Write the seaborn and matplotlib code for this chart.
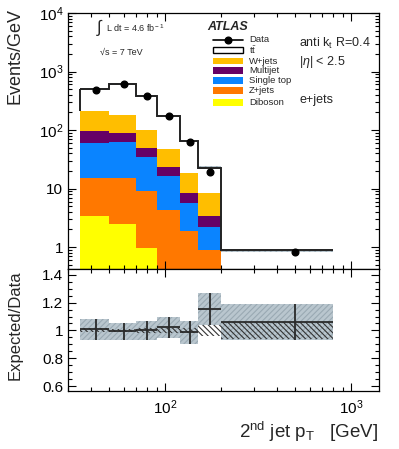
import numpy as np
import pandas as pd
import matplotlib
matplotlib.use("Agg")
import matplotlib.pyplot as plt
import matplotlib.ticker as mticker
from matplotlib.patches import Rectangle
from matplotlib.lines import Line2D
import seaborn as sns

# ---------------- data ----------------
bin_edges = [35, 50, 70, 90, 120, 150, 200, 800]
processes = ["ttbar", "W+jets", "Multijet", "Single top", "Z+jets", "Diboson"]
ttbar = [297, 444, 289, 127.5, 47.4, 14.25, 0.52]
wjets = [113.6, 89.4, 49.4, 24.5, 10.15, 5.09, 0.20]
multijet = [34.9, 26.4, 13.7, 6.7, 2.76, 1.16, 0.03]
single_top = [44.6, 47.0, 26.1, 11.9, 3.81, 1.30, 0.08]
zjets = [11.5, 12.45, 8.06, 4.07, 1.76, 0.85, 0.04]
diboson = [3.40, 2.45, 0.96, 0.30, 0.12, 0.05, 0.01]
data_vals = [491, 614, 377, 171, 63.5, 19.1, 0.83]
mc_unc_frac = [0.04, 0.04, 0.04, 0.04, 0.04, 0.05, 0.06]

ratio_vals = [1.007, 0.993, 1.005, 1.024, 0.990, 1.156, 1.060]
ratio_lo = [0.928, 0.928, 0.930, 0.947, 0.904, 1.036, 0.928]
ratio_hi = [1.084, 1.053, 1.070, 1.100, 1.067, 1.270, 1.190]
mcstat_half = [0.014, 0.012, 0.015, 0.020, 0.020, 0.040, 0.060]

legend_labels = ["Data", r"t$\bar{\rm t}$", "W+jets", "Multijet", "Single top", "Z+jets", "Diboson"]
colors = {"ttbar": "white", "W+jets": "#FFBE00", "Multijet": "#660066",
          "Single top": "#0A84FF", "Z+jets": "#FF7800", "Diboson": "#FFFF00"}

# ---------------- style ----------------
sns.set_style("ticks")
plt.rcParams["font.family"] = ["Liberation Sans", "DejaVu Sans"]
plt.rcParams["mathtext.fontset"] = "custom"
plt.rcParams["mathtext.rm"] = "Liberation Sans"
plt.rcParams["mathtext.it"] = "Liberation Sans:italic"
plt.rcParams["mathtext.bf"] = "Liberation Sans:bold"
plt.rcParams["axes.linewidth"] = 0.9
plt.rcParams["axes.edgecolor"] = "black"
plt.rcParams["hatch.color"] = "#9AA9B3"
plt.rcParams["hatch.linewidth"] = 0.8

W, H = 399, 449
fig = plt.figure(figsize=(W / 100, H / 100), dpi=100)
left, right = 68 / W, 378.5 / W
y_split = 1 - 268.5 / H
ax = fig.add_axes([left, y_split, right - left, (1 - 13 / H) - y_split])
axr = fig.add_axes([left, 1 - 391 / H, right - left, y_split - (1 - 391 / H)])

edges = np.array(bin_edges, dtype=float)
centers = 0.5 * (edges[:-1] + edges[1:])
comp = {"ttbar": ttbar, "W+jets": wjets, "Multijet": multijet,
        "Single top": single_top, "Z+jets": zjets, "Diboson": diboson}
rows = []
for p in processes:
    for c, v in zip(centers, comp[p]):
        rows.append({"pt": c, "w": v, "process": p})
df = pd.DataFrame(rows)

ax.set_xscale("log")
sns.histplot(df, x="pt", weights="w", hue="process", hue_order=processes,
             multiple="stack", bins=[float(b) for b in np.log10(edges)], element="bars",
             palette=colors, linewidth=0, alpha=1, legend=False, ax=ax)
ax.set_yscale("log")

total = np.sum([np.array(comp[p]) for p in processes], axis=0)
below_tt = total - np.array(ttbar)
unc = np.array(mc_unc_frac)
ax.stairs(total * (1 + unc), edges, baseline=total * (1 - unc), fill=True,
          facecolor="#B9C6CE", edgecolor="#9AA9B3", lw=0, hatch="//////", zorder=3)
ax.stairs(total, edges, baseline=None, color="#222222", lw=1.4, zorder=4)
ax.vlines(edges[0], below_tt[0], total[0], color="#222222", lw=1.4, zorder=4)
ax.plot(centers, data_vals, "o", color="black", ms=4.8, zorder=6)

ax.set_xlim(30, 1400)
ax.set_ylim(0.43, 1e4)
ax.set_xlabel("")
ax.set_ylabel("")


def log_fmt(v, pos):
    if abs(v - 1) < 1e-9:
        return "1"
    if abs(v - 10) < 1e-9:
        return "10"
    e = int(round(np.log10(v)))
    return r"$\mathdefault{10^{%d}}$" % e


for a in (ax, axr):
    a.xaxis.set_major_locator(mticker.LogLocator(base=10, numticks=10))
    a.xaxis.set_minor_locator(mticker.LogLocator(base=10, subs=np.arange(2, 10), numticks=10))
    a.xaxis.set_minor_formatter(mticker.NullFormatter())

ax.yaxis.set_major_locator(mticker.LogLocator(base=10, numticks=10))
ax.yaxis.set_minor_locator(mticker.LogLocator(base=10, subs=np.arange(2, 10), numticks=10))
ax.yaxis.set_major_formatter(mticker.FuncFormatter(log_fmt))
ax.yaxis.set_minor_formatter(mticker.NullFormatter())
ax.tick_params(axis="x", labelbottom=False)

# ---------------- ratio panel ----------------
axr.set_xscale("log")
widths = np.diff(edges)
lo = np.array(ratio_lo)
hi = np.array(ratio_hi)
axr.bar(edges[:-1], hi - lo, bottom=lo, width=widths, align="edge",
        color="#B9C6CE", edgecolor="#9AA9B3", linewidth=0, hatch="//////", zorder=1)
mh = np.array(mcstat_half)
axr.bar(edges[:-1], 2 * mh, bottom=1 - mh, width=widths, align="edge",
        facecolor="none", edgecolor="#333333", linewidth=0, hatch="\\\\\\\\\\\\", zorder=2)
axr.hlines(ratio_vals, edges[:-1], edges[1:], color="#2a2a2a", lw=1.3, zorder=3)
axr.vlines(centers, lo, hi, color="#2a2a2a", lw=1.3, zorder=3)
axr.set_xlim(30, 1400)
axr.set_ylim(0.565, 1.445)
axr.yaxis.set_major_locator(mticker.MultipleLocator(0.2))
axr.yaxis.set_minor_locator(mticker.MultipleLocator(0.05))
axr.yaxis.set_major_formatter(mticker.FuncFormatter(lambda v, p: "%g" % round(v, 2)))
axr.xaxis.set_major_formatter(mticker.FuncFormatter(log_fmt))
axr.set_xlabel("")
axr.set_ylabel("")

for a in (ax, axr):
    a.tick_params(which="both", direction="in", top=True, right=True, colors="black",
                  labelsize=11, width=0.8)
    a.tick_params(which="major", length=6)
    a.tick_params(which="minor", length=3.2)
    a.set_axisbelow(False)
axr.tick_params(axis="x", pad=5)

# ---------------- texts ----------------
def fx(px):
    return px / W


def fy(py):
    return 1 - py / H


fig.text(fx(15), fy(8), "Events/GeV", rotation=90, ha="center", va="top", fontsize=13)
fig.text(fx(15), fy(270), "Expected/Data", rotation=90, ha="center", va="top", fontsize=12)
fig.text(fx(378), fy(438), r"2$^{\rm nd}$ jet p$_{\rm T}$   [GeV]", ha="right", va="baseline", fontsize=13.5)

fig.text(fx(104.5), fy(27), r"$\int$", ha="right", va="center", fontsize=12)
fig.text(fx(106), fy(28.5), r"L dt = 4.6 fb$^{\rm -1}$", ha="left", va="center", fontsize=6.5)
fig.text(fx(100), fy(52.5), "\u221As = 7 TeV", ha="left", va="center", fontsize=6.5)

fig.text(fx(207), fy(27.5), "ATLAS", ha="left", va="center", fontsize=9,
         fontweight="bold", fontstyle="italic")
fig.text(fx(299), fy(43), r"anti k$_{\rm t}$ R=0.4", ha="left", va="center", fontsize=9)
fig.text(fx(299), fy(62.5), r"|$\eta$| < 2.5", ha="left", va="center", fontsize=9)
fig.text(fx(299), fy(100), "e+jets", ha="left", va="center", fontsize=9)

leg_y = [40, 50, 61, 70.7, 80.7, 90.7, 102.3]
box_x0, box_x1 = 213, 243
for i, lab in enumerate(legend_labels):
    yc = leg_y[i]
    if i == 0:
        fig.add_artist(Line2D([fx(box_x0), fx(box_x1)], [fy(yc), fy(yc)], color="black", lw=1.2))
        fig.add_artist(Line2D([fx(228)], [fy(yc)], marker="o", color="black", ms=4.8))
    else:
        p = processes[i - 1]
        fig.add_artist(Rectangle((fx(box_x0), fy(yc + 3.3)), fx(box_x1) - fx(box_x0),
                                 fy(yc - 3.3) - fy(yc + 3.3), facecolor=colors[p],
                                 edgecolor="black" if p == "ttbar" else "none", lw=1.0))
    fig.text(fx(249), fy(yc), lab, ha="left", va="center", fontsize=6.8)

fig.savefig("out.png", dpi=100)
